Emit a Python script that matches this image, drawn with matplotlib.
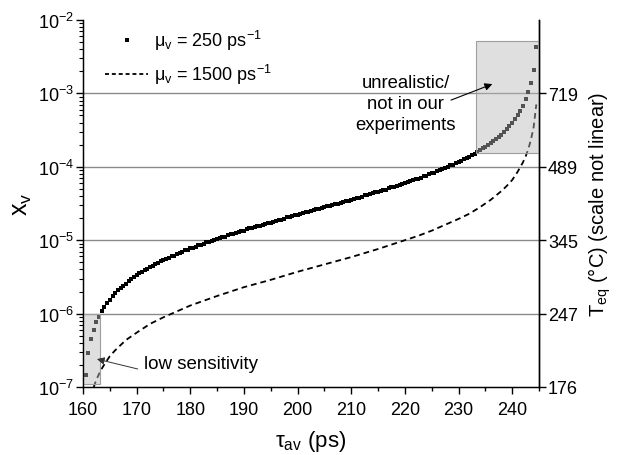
import numpy as np
import matplotlib
matplotlib.use('Agg')
import matplotlib.pyplot as plt
from matplotlib.patches import Rectangle
from matplotlib.lines import Line2D
from matplotlib.ticker import LogLocator, NullFormatter, MultipleLocator, FixedLocator, NullLocator, FixedFormatter

plt.rcParams['font.family'] = ['Liberation Sans', 'DejaVu Sans']
plt.rcParams['mathtext.default'] = 'regular'
plt.rcParams['axes.unicode_minus'] = False

# ---- data ----
tau_start = 160.5   # ps, first point of the mu_v = 250 ps^-1 series
tau_step = 0.5      # ps, sampling of that series
log_xv_250 = [
    -6.83, -6.53, -6.35, -6.22, -6.12, -6.04, -5.97, -5.91, -5.86, -5.81,
    -5.76, -5.72, -5.68, -5.65, -5.62, -5.59, -5.56, -5.53, -5.50, -5.48,
    -5.45, -5.43, -5.41, -5.39, -5.37, -5.35, -5.33, -5.31, -5.29, -5.27,
    -5.25, -5.24, -5.22, -5.21, -5.19, -5.17, -5.16, -5.14, -5.13, -5.11,
    -5.10, -5.09, -5.07, -5.06, -5.05, -5.03, -5.02, -5.01, -5.00, -4.98,
    -4.97, -4.96, -4.95, -4.93, -4.92, -4.91, -4.90, -4.89, -4.88, -4.87,
    -4.85, -4.84, -4.83, -4.82, -4.81, -4.80, -4.79, -4.78, -4.77, -4.76,
    -4.75, -4.74, -4.73, -4.72, -4.71, -4.69, -4.68, -4.67, -4.66, -4.65,
    -4.64, -4.63, -4.62, -4.61, -4.60,
    -4.59, -4.58, -4.57, -4.56, -4.55, -4.54, -4.53, -4.52, -4.51, -4.50,
    -4.49, -4.48, -4.47, -4.46, -4.45, -4.44, -4.43, -4.42, -4.41,
    -4.39, -4.38, -4.37, -4.36, -4.35, -4.34, -4.33, -4.32, -4.31, -4.29,
    -4.28, -4.27, -4.26, -4.25, -4.23, -4.22, -4.21, -4.20, -4.18, -4.17,
    -4.16, -4.15, -4.13, -4.12, -4.10, -4.09, -4.08, -4.06, -4.05, -4.03,
    -4.02, -4.00, -3.98, -3.97, -3.95, -3.93, -3.92, -3.90, -3.88, -3.86,
    -3.84, -3.82, -3.80, -3.77, -3.75, -3.73, -3.70, -3.68, -3.65, -3.62,
    -3.59, -3.56, -3.52, -3.48, -3.44, -3.40, -3.35, -3.30, -3.24, -3.17,
    -3.08, -2.98, -2.86, -2.68, -2.37,
]
tau_1500 = [162.0, 162.5, 163.0, 163.5, 164.0, 165.0, 166.0, 168.0, 170.0, 172.5,
            175.0, 177.5, 180.0, 185.0, 190.0, 195.0, 200.0, 205.0, 210.0, 215.0,
            220.0, 222.5, 225.0, 227.5, 230.0, 232.0, 234.0, 236.0, 238.0, 239.0,
            240.0, 241.0, 242.0, 242.5, 243.0, 243.5, 244.0, 244.5]
log_xv_1500 = [-7.00, -6.90, -6.82, -6.75, -6.69, -6.58, -6.50, -6.36, -6.26, -6.14,
               -6.05, -5.97, -5.89, -5.76, -5.64, -5.54, -5.43, -5.33, -5.23, -5.12,
               -5.00, -4.94, -4.87, -4.79, -4.71, -4.64, -4.55, -4.45, -4.33, -4.26,
               -4.18, -4.07, -3.94, -3.86, -3.76, -3.63, -3.46, -3.15]
grid_levels = [1e-6, 1e-5, 1e-4, 1e-3]
right_tick_vals = [1e-7, 1e-6, 1e-5, 1e-4, 1e-3]
right_tick_labels = ['176', '247', '345', '489', '719']
legend_labels = ['\u03bc$_{v}$ = 250 ps$^{-1}$', '\u03bc$_{v}$ = 1500 ps$^{-1}$']

# ---- figure ----
W, H = 622, 456
fig = plt.figure(figsize=(W / 100, H / 100), dpi=100)
ax = fig.add_axes([83 / W, 1 - 388 / H, (539 - 83) / W, (388 - 21) / H])
ax.set_xscale('linear')
ax.set_yscale('log')
ax.set_xlim(160, 245)
ax.set_ylim(1e-7, 1e-2)

for g in grid_levels:
    ax.axhline(g, color='#8a8a8a', lw=1.0, zorder=1)

tau_250 = tau_start + tau_step * np.arange(len(log_xv_250))
ax.plot(tau_250, 10 ** np.array(log_xv_250), ls='none', marker='s', ms=3.4,
        mew=0, color='black', zorder=2)
ax.plot(tau_1500, 10 ** np.array(log_xv_1500), ls=(0, (3.2, 2.2)), color='black',
        lw=1.3, zorder=2)

# shaded regions
ax.add_patch(Rectangle((160, 1.1e-7), 3.2, 1e-6 - 1.1e-7,
                       facecolor=(0.73, 0.73, 0.73, 0.45),
                       edgecolor=(0.62, 0.62, 0.62, 1), lw=0.8, zorder=3))
ax.add_patch(Rectangle((233.2, 1.53e-4), 11.8, 5.1e-3 - 1.53e-4,
                       facecolor=(0.73, 0.73, 0.73, 0.45),
                       edgecolor=(0.62, 0.62, 0.62, 1), lw=0.8, zorder=3))

# annotations
ax.text(220.1, 7.2e-4, 'unrealistic/\nnot in our\nexperiments', ha='center',
        va='center', fontsize=13.3, linespacing=1.3, zorder=4)
ax.annotate('', xy=(236.3, 1.34e-3), xytext=(228.6, 8.1e-4),
            arrowprops=dict(arrowstyle='-|>', color='black', lw=0.8,
                            mutation_scale=11, shrinkA=0, shrinkB=0), zorder=4)
ax.text(171.3, 2.06e-7, 'low sensitivity', ha='left', va='center', fontsize=13.5,
        zorder=4)
ax.annotate('', xy=(162.6, 2.4e-7), xytext=(170.2, 1.76e-7),
            arrowprops=dict(arrowstyle='-|>', color='#333333', lw=0.7,
                            mutation_scale=11, shrinkA=0, shrinkB=0), zorder=4)

# axes styling
for s in ['left', 'bottom', 'right']:
    ax.spines[s].set_linewidth(1.0)
    ax.spines[s].set_color('black')
ax.spines['top'].set_visible(False)

ax.xaxis.set_major_locator(MultipleLocator(10))
ax.xaxis.set_minor_locator(MultipleLocator(5))
ax.yaxis.set_major_locator(LogLocator(base=10, numticks=10))
ax.yaxis.set_minor_locator(LogLocator(base=10, subs=np.arange(2, 10), numticks=20))
ax.yaxis.set_minor_formatter(NullFormatter())
ax.tick_params(axis='x', which='major', direction='out', length=5, width=1,
               labelsize=13, pad=5, top=False)
ax.tick_params(axis='x', which='minor', direction='out', length=3, width=1, top=False)
ax.tick_params(axis='y', which='major', direction='out', length=5, width=1,
               labelsize=13, pad=1.5, right=False)
ax.tick_params(axis='y', which='minor', direction='out', length=3, width=0.8,
               right=False)

ax.set_xlabel('\u03c4$_{av}$ (ps)', fontsize=16, labelpad=7)
ax.set_ylabel('x$_{v}$', fontsize=18, labelpad=3)

# right axis
ax2 = ax.twinx()
ax2.set_yscale('log')
ax2.set_ylim(ax.get_ylim())
ax2.yaxis.set_major_locator(FixedLocator(right_tick_vals))
ax2.yaxis.set_major_formatter(FixedFormatter(right_tick_labels))
ax2.yaxis.set_minor_locator(NullLocator())
ax2.tick_params(axis='y', which='major', direction='out', length=5, width=1,
                labelsize=13, pad=1.5)
ax2.spines['top'].set_visible(False)
ax2.spines['right'].set_linewidth(1.0)
ax2.set_ylabel('T$_{eq}$ (\u00b0C) (scale not linear)', fontsize=14.5, labelpad=6)

# legend
handles = [Line2D([], [], ls='none', marker='s', ms=3.1, mew=0, color='black'),
           Line2D([], [], ls=(0, (2.2, 1.6)), color='black', lw=1.3)]
ax.legend(handles, legend_labels, loc='upper left', frameon=False, fontsize=13,
          bbox_to_anchor=(105 / W, 1 - 29 / H), bbox_transform=fig.transFigure,
          borderpad=0, borderaxespad=0, handlelength=2.4, handletextpad=0.3,
          labelspacing=0.55)

fig.savefig('out.png', dpi=100)
